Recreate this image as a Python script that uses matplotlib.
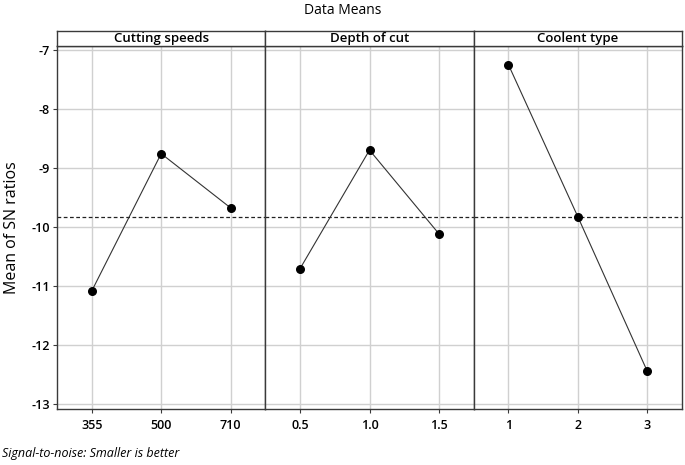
import matplotlib.pyplot as plt

plt.rcParams['font.family'] = ['Open Sans', 'DejaVu Sans']

# main effects data (mean of SN ratios)
panel_titles = ["Cutting speeds", "Depth of cut", "Coolent type"]
tick_labels = [["355", "500", "710"], ["0.5", "1.0", "1.5"], ["1", "2", "3"]]
sn_means = [
    [-11.09, -8.76, -9.68],
    [-10.71, -8.70, -10.12],
    [-7.25, -9.83, -12.45],
]
overall_mean = -9.84
y_ticks = [-7, -8, -9, -10, -11, -12, -13]

W, H = 685, 465
fig = plt.figure(figsize=(W / 100, H / 100), dpi=100)

left, right = 57 / W, 682 / W
bottom, top = 1 - 409 / H, 1 - 45.7 / H
strip_h = 15 / H
pw = (right - left) / 3

frame_col = "#3a3a3a"
grid_col = "#d0d0d0"

axes = []
for i in range(3):
    ax = fig.add_axes([left + i * pw, bottom, pw, top - bottom])
    axes.append(ax)
    x = [1, 2, 3]
    ax.set_xlim(0.5, 3.5)
    ax.set_ylim(-13.09, -6.93)
    ax.set_xticks(x)
    ax.set_xticklabels(tick_labels[i], fontsize=9, fontweight='semibold')
    ax.set_yticks(y_ticks)
    ax.grid(True, color=grid_col, lw=1.0)
    ax.set_axisbelow(True)
    ax.axhline(overall_mean, color="#222222", lw=0.9, ls=(0, (3, 2)), zorder=2)
    ax.plot(x, sn_means[i], color="#333333", lw=0.8, zorder=3)
    ax.scatter(x, sn_means[i], s=30, color="black", zorder=4)
    for sp in ax.spines.values():
        sp.set_color(frame_col)
        sp.set_linewidth(1.0)
    ax.tick_params(axis='x', length=3, color=frame_col, pad=4)
    if i == 0:
        ax.set_yticklabels([str(v) for v in y_ticks], fontsize=9, fontweight='semibold')
        ax.tick_params(axis='y', length=3, color=frame_col, pad=2)
        ax.set_ylabel("Mean of SN ratios", fontsize=11.5, labelpad=8)
    else:
        ax.tick_params(axis='y', left=False, labelleft=False)

    # header strip
    hx = fig.add_axes([left + i * pw, top, pw, strip_h])
    hx.set_xticks([])
    hx.set_yticks([])
    for sp in hx.spines.values():
        sp.set_color(frame_col)
        sp.set_linewidth(1.0)
    hx.text(0.5, 0.45, panel_titles[i], ha="center", va="center",
            fontsize=9.5, fontweight='semibold', transform=hx.transAxes)

fig.text(0.5, 1 - 10 / H, "Data Means", ha="center", va="center", fontsize=10)
fig.text(2 / W, 1 - 453 / H, "Signal-to-noise: Smaller is better",
         ha="left", va="center", fontsize=9, style="italic")

plt.savefig("out.png", dpi=100)
